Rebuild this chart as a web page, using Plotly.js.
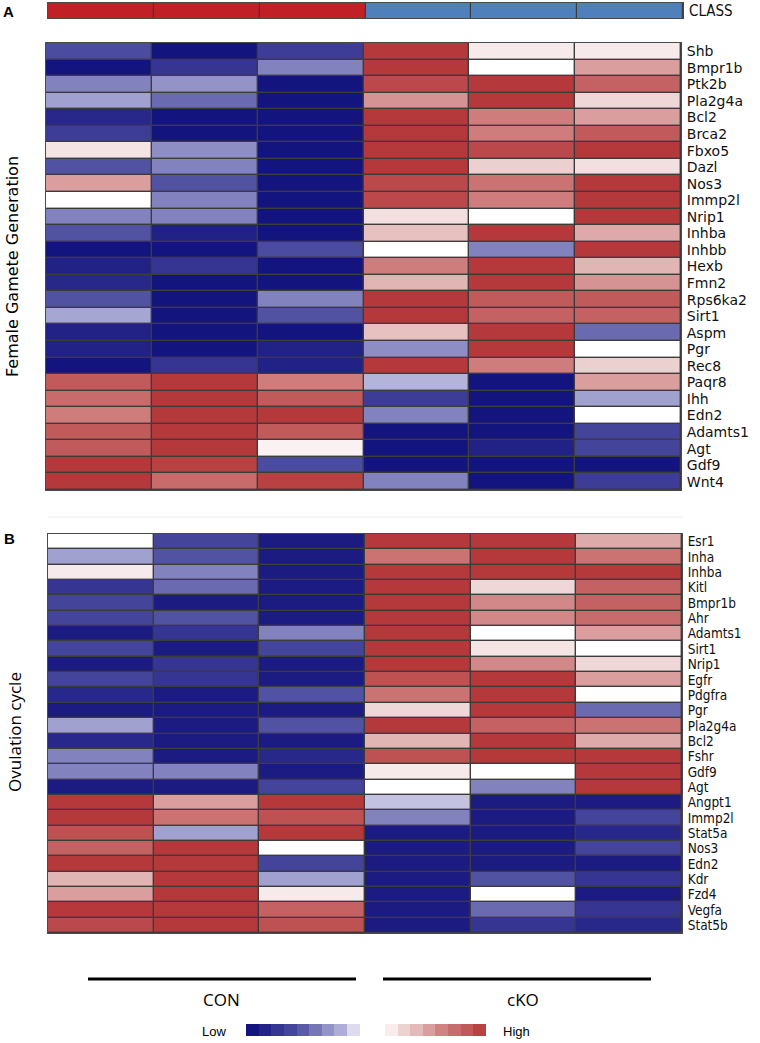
<!DOCTYPE html>
<html>
<head>
<meta charset="utf-8">
<script src="https://cdn.plot.ly/plotly-3.0.1.min.js"></script>
<style>html,body{margin:0;padding:0;background:#fff;}#chart{width:760px;height:1043px;}</style>
</head>
<body>
<div id="chart"></div>
<script>
// ---- data ----
var samples = ["CON1", "CON2", "CON3", "cKO1", "cKO2", "cKO3"];
var classValues = [1, 1, 1, -1, -1, -1];
var classLabel = ["CLASS"];

var genesA = ["Shb","Bmpr1b","Ptk2b","Pla2g4a","Bcl2","Brca2","Fbxo5","Dazl","Nos3","Immp2l","Nrip1","Inhba","Inhbb","Hexb","Fmn2","Rps6ka2","Sirt1","Aspm","Pgr","Rec8","Paqr8","Ihh","Edn2","Adamts1","Agt","Gdf9","Wnt4"];
var valuesA = [
  [-0.6, -1, -0.7, 0.95, 0.08, 0.08],
  [-1, -0.75, -0.35, 0.95, 0, 0.4],
  [-0.35, -0.28, -1, 0.85, 0.95, 0.7],
  [-0.22, -0.45, -1, 0.45, 0.95, 0.15],
  [-0.85, -1, -1, 0.95, 0.55, 0.4],
  [-0.7, -1, -1, 0.95, 0.55, 0.75],
  [0.1, -0.3, -1, 0.95, 0.85, 0.95],
  [-0.55, -0.35, -1, 0.95, 0.18, 0.12],
  [0.4, -0.55, -1, 0.85, 0.6, 0.95],
  [0, -0.35, -1, 0.85, 0.55, 0.95],
  [-0.35, -0.35, -1, 0.12, 0, 0.95],
  [-0.55, -0.9, -1, 0.25, 0.95, 0.35],
  [-1, -1, -0.6, 0, -0.35, 0.95],
  [-0.9, -0.75, -1, 0.55, 0.95, 0.3],
  [-0.85, -1, -1, 0.3, 0.95, 0.45],
  [-0.55, -1, -0.35, 0.95, 0.75, 0.75],
  [-0.2, -1, -0.55, 0.95, 0.7, 0.7],
  [-0.9, -1, -1, 0.25, 0.95, -0.45],
  [-0.9, -1, -0.9, -0.3, 0.95, 0],
  [-1, -0.75, -0.9, 0.95, 0.55, 0.18],
  [0.75, 0.95, 0.55, -0.15, -1, 0.4],
  [0.65, 0.95, 0.75, -0.7, -1, -0.22],
  [0.55, 0.95, 0.95, -0.35, -1, 0],
  [0.75, 0.95, 0.75, -1, -1, -0.65],
  [0.75, 0.95, 0.05, -1, -0.9, -0.65],
  [0.95, 0.9, -0.6, -1, -1, -1],
  [0.95, 0.65, 0.9, -0.35, -1, -0.7]
];

var genesB = ["Esr1","Inha","Inhba","Kitl","Bmpr1b","Ahr","Adamts1","Sirt1","Nrip1","Egfr","Pdgfra","Pgr","Pla2g4a","Bcl2","Fshr","Gdf9","Agt","Angpt1","Immp2l","Stat5a","Nos3","Edn2","Kdr","Fzd4","Vegfa","Stat5b"];
var valuesB = [
  [0, -0.65, -0.95, 0.95, 0.95, 0.35],
  [-0.22, -0.55, -0.95, 0.6, 0.95, 0.6],
  [0.08, -0.35, -0.95, 0.95, 0.95, 0.95],
  [-0.75, -0.45, -0.95, 0.95, 0.15, 0.7],
  [-0.65, -0.95, -0.95, 0.95, 0.5, 0.7],
  [-0.65, -0.55, -0.95, 0.95, 0.5, 0.65],
  [-0.95, -0.75, -0.35, 0.95, 0, 0.4],
  [-0.65, -0.95, -0.65, 0.95, 0.1, 0],
  [-0.95, -0.75, -0.95, 0.95, 0.5, 0.15],
  [-0.65, -0.75, -0.95, 0.8, 0.95, 0.4],
  [-0.85, -0.95, -0.55, 0.6, 0.95, 0],
  [-0.95, -0.95, -0.95, 0.15, 0.95, -0.45],
  [-0.22, -0.95, -0.55, 0.95, 0.7, 0.6],
  [-0.85, -0.95, -0.95, 0.3, 0.95, 0.35],
  [-0.35, -0.95, -0.85, 0.8, 0.95, 0.95],
  [-0.35, -0.35, -0.95, 0.08, 0, 0.95],
  [-0.95, -0.95, -0.65, 0, -0.35, 0.95],
  [0.95, 0.4, 0.95, -0.12, -0.95, -0.95],
  [0.95, 0.6, 0.8, -0.35, -0.95, -0.65],
  [0.8, -0.22, 0.95, -0.95, -0.95, -0.85],
  [0.7, 0.95, 0, -0.95, -0.95, -0.65],
  [0.95, 0.95, -0.65, -0.95, -0.95, -0.95],
  [0.3, 0.95, -0.22, -0.95, -0.55, -0.75],
  [0.4, 0.95, 0.08, -0.95, 0, -0.95],
  [0.95, 0.95, 0.7, -0.95, -0.45, -0.75],
  [0.85, 0.95, 0.8, -0.95, -0.75, -0.85]
];

var legendSteps = [-1, -0.88, -0.76, -0.64, -0.52, -0.4, -0.28, -0.17, -0.07, 0, 0, 0.07, 0.17, 0.28, 0.4, 0.52, 0.64, 0.76, 0.9];
var groupLabels = ["CON", "cKO"];
var legendLabels = ["Low", "High"];

// ---- layout helpers (pixel -> paper) ----
var W = 760, H = 1043;
function px(x) { return x / W; }
function py(y) { return 1 - y / H; }

var heatScale = [
  [0, 'rgb(20,20,126)'],
  [0.22, 'rgb(80,80,162)'],
  [0.42, 'rgb(175,175,215)'],
  [0.5, 'rgb(255,255,255)'],
  [0.58, 'rgb(238,212,212)'],
  [0.78, 'rgb(205,122,122)'],
  [1, 'rgb(178,48,50)']
];
var classScale = [[0, 'rgb(79,128,188)'], [1, 'rgb(193,32,38)']];

var traces = [
  {type: 'heatmap', x: samples, y: classLabel, z: [classValues], colorscale: classScale, zmin: -1, zmax: 1,
   showscale: false, xgap: 1.2, ygap: 0, xaxis: 'x', yaxis: 'y', hoverinfo: 'skip'},
  {type: 'heatmap', x: samples, y: genesA, z: valuesA, colorscale: heatScale, zmin: -1, zmax: 1,
   showscale: false, xgap: 1.4, ygap: 1.4, xaxis: 'x2', yaxis: 'y2'},
  {type: 'heatmap', x: samples, y: genesB, z: valuesB, colorscale: heatScale, zmin: -1, zmax: 1,
   showscale: false, xgap: 1.4, ygap: 1.4, xaxis: 'x3', yaxis: 'y3'},
  {type: 'heatmap', z: [legendSteps], colorscale: heatScale, zmin: -1, zmax: 1,
   showscale: false, xaxis: 'x4', yaxis: 'y4', hoverinfo: 'skip'}
];

function hx(dom) {
  return {domain: dom, showticklabels: false, ticks: '', showgrid: false, zeroline: false,
          showline: true, mirror: true, linecolor: '#4a4a4a', linewidth: 1, fixedrange: true};
}
function vy(dom, cats, fontFam, fontSize, anchor) {
  return {domain: dom, side: 'right', autorange: 'reversed', ticks: '', showgrid: false, zeroline: false,
          tickmode: 'array', tickvals: cats, ticktext: cats,
          showline: true, mirror: true, linecolor: '#4a4a4a', linewidth: 1, anchor: anchor,
          tickfont: {family: fontFam, size: fontSize, color: '#111'}, ticklabelstandoff: 2, fixedrange: true};
}
function ann(text, x, y, fam, size, angle) {
  return {text: text, xref: 'paper', yref: 'paper', x: px(x), y: py(y), xanchor: 'center', yanchor: 'middle',
          showarrow: false, textangle: angle || 0, font: {family: fam, size: size, color: '#000'}};
}

var layout = {
  width: W, height: H,
  margin: {l: 0, r: 0, t: 0, b: 0},
  paper_bgcolor: '#ffffff',
  plot_bgcolor: '#3c3c3c',
  showlegend: false,
  xaxis: hx([px(48), px(683)]),
  yaxis: Object.assign(vy([py(18), py(3)], classLabel, 'DejaVu Sans Condensed, Liberation Sans, sans-serif', 15, 'x'), {autorange: true}),
  xaxis2: Object.assign(hx([px(46), px(681)]), {anchor: 'y2'}),
  yaxis2: vy([py(490), py(43)], genesA, 'DejaVu Sans, Liberation Sans, sans-serif', 14, 'x2'),
  xaxis3: Object.assign(hx([px(48), px(682)]), {anchor: 'y3'}),
  yaxis3: vy([py(933), py(534)], genesB, 'DejaVu Sans Condensed, Liberation Sans, sans-serif', 13.5, 'x3'),
  xaxis4: {domain: [px(246), px(486)], anchor: 'y4', visible: false, fixedrange: true},
  yaxis4: {domain: [py(1036), py(1024)], anchor: 'x4', visible: false, fixedrange: true},
  shapes: [
    {type: 'line', xref: 'paper', yref: 'paper', x0: px(48), x1: px(683), y0: py(517), y1: py(517),
     line: {color: '#ececec', width: 1}},
    {type: 'line', xref: 'paper', yref: 'paper', x0: px(88), x1: px(356), y0: py(979), y1: py(979),
     line: {color: '#000', width: 3}},
    {type: 'line', xref: 'paper', yref: 'paper', x0: px(383), x1: px(651), y0: py(979), y1: py(979),
     line: {color: '#000', width: 3}}
  ],
  annotations: [
    ann('<b>A</b>', 8, 12, 'Liberation Sans, Arial, sans-serif', 15),
    ann('<b>B</b>', 9, 538, 'Liberation Sans Narrow, Arial, sans-serif', 15),
    ann('Female Gamete Generation', 12, 267, 'DejaVu Sans, sans-serif', 16, -90),
    ann('Ovulation cycle', 14, 732, 'Open Sans, Lato, sans-serif', 17, -90),
    ann(groupLabels[0], 221, 999, 'Open Sans, Lato, sans-serif', 17),
    ann(groupLabels[1], 523, 999, 'Open Sans, Lato, sans-serif', 17),
    ann(legendLabels[0], 214, 1031, 'Liberation Sans, Arial, sans-serif', 13),
    ann(legendLabels[1], 516, 1031, 'Liberation Sans, Arial, sans-serif', 13)
  ]
};

Plotly.newPlot('chart', traces, layout, {displayModeBar: false, staticPlot: true});
</script>
</body>
</html>
